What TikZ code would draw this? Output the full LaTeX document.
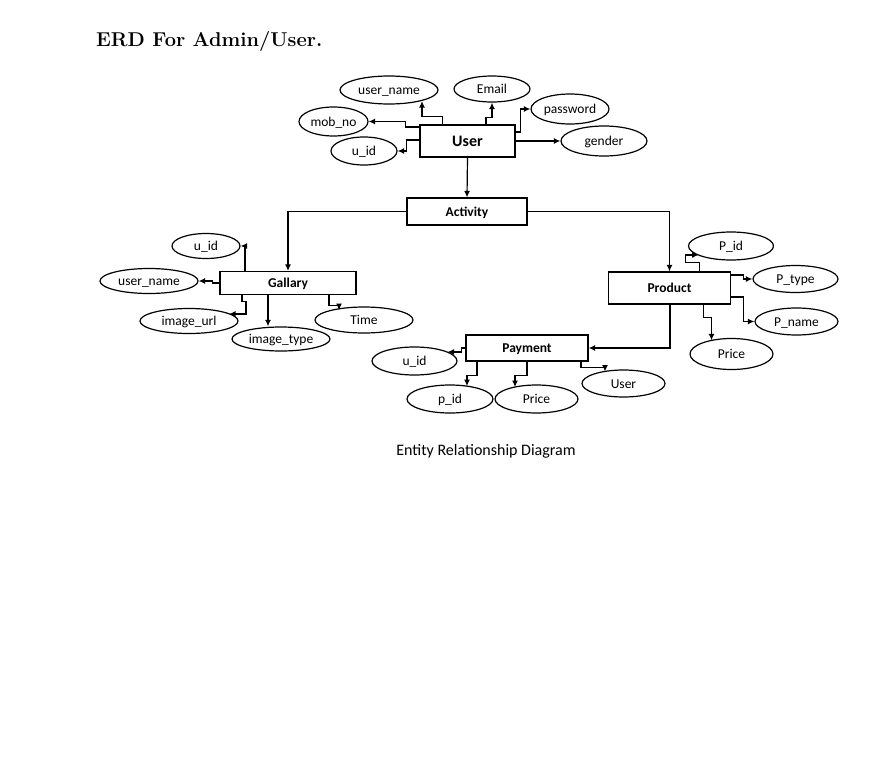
\documentclass[tikz,border=0pt]{standalone}
\usepackage{fontspec}
\newfontfamily\carl{Carlito}
\usetikzlibrary{shapes.geometric,arrows.meta}
\begin{document}
\begin{tikzpicture}[x=1pt,y=-1pt,
  ent/.style={draw,line width=1.2pt,inner sep=0pt,text height=9pt,text depth=0pt,font=\carl\bfseries\fontsize{13.5}{16}\selectfont},
  attr/.style={ellipse,draw,line width=1.2pt,inner sep=0pt,text height=9pt,text depth=0pt,font=\carl\fontsize{13.5}{16}\selectfont},
  arr/.style={-{Latex[length=6.5pt,width=6pt]},line width=1.2pt},
  ln/.style={line width=1.2pt}]
\useasboundingbox (0,0) rectangle (895,774);
\node[anchor=base west,inner sep=0pt,font=\fontsize{20}{24}\selectfont\bfseries] (title) at (96,46) {ERD For Admin/User.};
% User
\node[ent,minimum width=95pt,minimum height=32pt,text height=10.5pt,font=\carl\bfseries\fontsize{16}{19}\selectfont] (user) at (467.5,141) {User};
\node[attr,minimum width=98pt,minimum height=28pt] (uname) at (389,90) {user\_name};
\node[attr,minimum width=76pt,minimum height=26pt] (email) at (492,89) {Email};
\node[attr,minimum width=78pt,minimum height=30pt] (pass) at (570,109) {password};
\node[attr,minimum width=69pt,minimum height=29pt] (mob) at (333.5,121.5) {mob\_no};
\node[attr,minimum width=66pt,minimum height=28pt] (uidA) at (364,151) {u\_id};
\node[attr,minimum width=86pt,minimum height=30pt] (gender) at (604,141) {gender};
% Activity
\node[ent,minimum width=120pt,minimum height=27pt] (act) at (467,211.5) {Activity};
% Gallary
\node[ent,minimum width=136pt,minimum height=23pt] (gal) at (288,283) {Gallary};
\node[attr,minimum width=68pt,minimum height=25pt] (uidB) at (206,246) {u\_id};
\node[attr,minimum width=98pt,minimum height=25pt] (unameB) at (149,281) {user\_name};
\node[attr,minimum width=98pt,minimum height=25pt] (url) at (189,321) {image\_url};
\node[attr,minimum width=98pt,minimum height=24pt] (itype) at (281,339) {image\_type};
\node[attr,minimum width=98pt,minimum height=26pt] (time) at (364,320) {Time};
% Product
\node[ent,minimum width=122pt,minimum height=32pt] (prod) at (669.5,288) {Product};
\node[attr,minimum width=85pt,minimum height=28pt] (pid) at (731,246) {P\_id};
\node[attr,minimum width=85pt,minimum height=27pt] (ptype) at (795.5,279) {P\_type};
\node[attr,minimum width=83pt,minimum height=27pt] (pname) at (796.5,321.5) {P\_name};
\node[attr,minimum width=83pt,minimum height=31pt] (priceA) at (731.5,354) {Price};
% Payment
\node[ent,minimum width=122pt,minimum height=26pt] (pay) at (527,348) {Payment};
\node[attr,minimum width=85pt,minimum height=28pt] (uidC) at (414.5,361) {u\_id};
\node[attr,minimum width=86pt,minimum height=28pt] (pidB) at (450,399) {p\_id};
\node[attr,minimum width=83pt,minimum height=28pt] (priceB) at (536.5,399) {Price};
\node[attr,minimum width=83pt,minimum height=27pt] (puser) at (623.5,383.5) {User};
% caption
\node[inner sep=0pt,font=\carl\fontsize{16}{19}\selectfont] (cap) at (486,451) {Entity Relationship Diagram};

% User connectors
\draw[arr] ([xshift=-25pt]user.north) -- ++(0,-8) -| ([xshift=33pt,yshift=3.5pt]uname.south);
\draw[arr] ([xshift=18.5pt]user.north) -- ++(0,-7) -| (email.south);
\draw[arr] ([yshift=9pt]user.east) -- ++(5,0) |- (pass.west);
\draw[arr] (user.east) -- (gender.west);
\draw[arr] ([yshift=14pt]user.west) -- ++(-14,0) |- (mob.east);
\draw[arr] ([yshift=1pt]user.west) -- ++(-13,0) |- (uidA.east);
\draw[arr] (user.south) -- (act.north);
% Activity
\draw[arr] (act.west) -| (gal.north);
\draw[arr] (act.east) -| (prod.north);
% Gallary
\draw[arr] ([xshift=-43pt]gal.north) |- (uidB.east);
\draw[arr] (gal.west) -- ++(-7,0) |- (unameB.east);
\draw[arr] ([xshift=-46pt]gal.south) -- ++(0,6) -- ++(4,0) |- ([xshift=40pt,yshift=7pt]url.center);
\coordinate (g4) at ([xshift=-20pt]gal.south);
\draw[arr] (g4) -- (g4 |- itype.north);
\draw[arr] ([xshift=41pt]gal.south) -- ++(0,10) -- ++(10,0) -- ++(0,5);
% Product
\draw[arr] ([xshift=30pt]prod.north) -- ++(0,-9) -- ++(-14,0) |- ([xshift=-32.5pt,yshift=-9pt]pid.center);
\draw[arr] ([yshift=13pt]prod.east) -- ++(12,0) |- (ptype.west);
\draw[arr] ([yshift=-9pt]prod.east) -- ++(12,0) |- (pname.west);
\draw[arr] ([xshift=34pt]prod.south) -- ++(0,13) -| ([xshift=-20pt,yshift=13.6pt]priceA.center);
\draw[arr] ([xshift=0.5pt]prod.south) |- (pay.east);
% Payment
\draw[arr] (pay.west) -- ++(-4,0) |- ([xshift=33pt,yshift=9pt]uidC.center);
\draw[arr] ([xshift=-50pt]pay.south) -- ++(0,14) -| ([xshift=17pt,yshift=12.9pt]pidB.center);
\draw[arr] (pay.south) -- ++(0,14) -| ([xshift=-21.5pt,yshift=12pt]priceB.center);
\draw[arr] ([xshift=54pt]pay.south) -- ++(0,6) -| ([xshift=-18.5pt,yshift=12pt]puser.center);
\end{tikzpicture}
\end{document}
